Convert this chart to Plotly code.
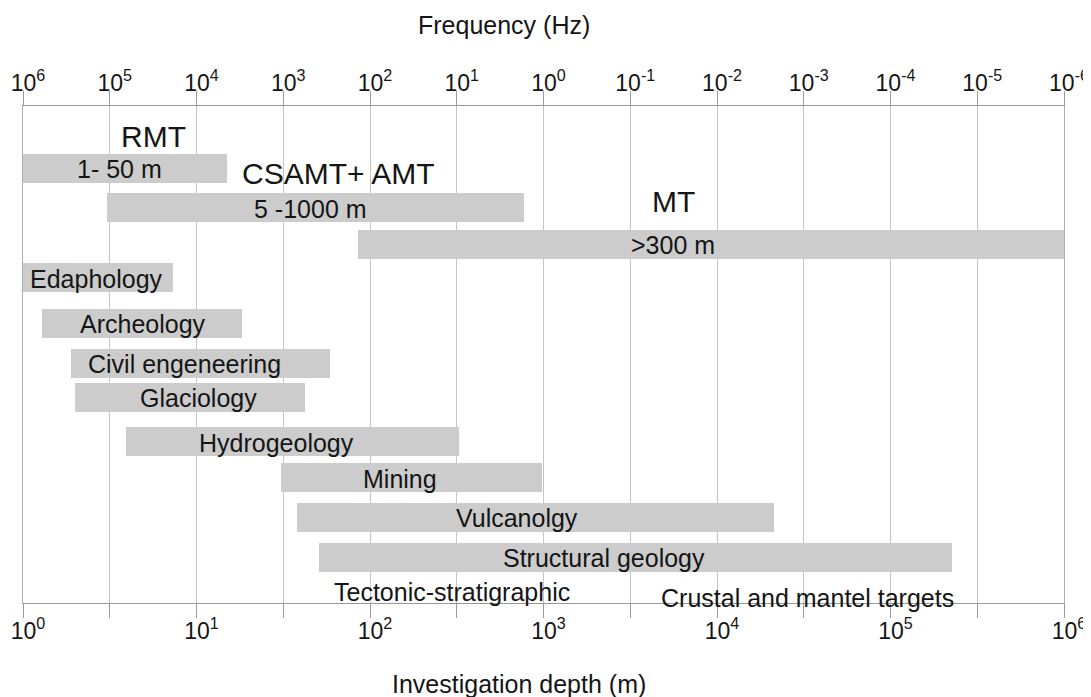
import numpy as np
import plotly.graph_objects as go

# =============================================================================
# Data - depths in metres
# =============================================================================
bar_names = ['RMT', 'CSAMT', 'MT', 'Edaphology', 'Archeology', 'Civil engeneering',
             'Glaciology', 'Hydrogeology', 'Mining', 'Vulcanolgy', 'Structural geology']
bar_labels = ['1- 50 m', '5 -1000 m', '>300 m', 'Edaphology', 'Archeology',
              'Civil engeneering', 'Glaciology', 'Hydrogeology', 'Mining',
              'Vulcanolgy', 'Structural geology']
depth_min = [1, 3.05, 85, 1, 1.28, 1.9, 2.0, 3.9, 30.8, 37.7, 51]
depth_max = [15, 772, 1e6, 7.3, 18.3, 58.7, 42, 326, 980, 21200, 226000]
# vertical row position of each bar (pixels below the top frame line)
bar_rows = [62, 101.5, 138, 171.7, 217, 257, 291, 335.5, 371.5, 411, 451]

depth_exp = [0, 1, 2, 3, 4, 5, 6]
freq_exp = [6, 5, 4, 3, 2, 1, 0, -1, -2, -3, -4, -5, -6]

# label placement (log10 depth, row)
label_x = [0.559, 1.657, 3.749, 0.421, 0.690, 0.933, 1.013, 1.462, 2.173, 2.845, 3.350]
method_titles = ['RMT', 'CSAMT+ AMT', 'MT']
method_x = [0.755, 1.821, 3.752]
method_y = [30, 67, 95.5]
extra_text = ['Tectonic-stratigraphic', 'Crustal and mantel targets']
extra_x = [2.473, 4.519]
extra_y = [486, 492]

FONT = 'Liberation Sans, Arial, sans-serif'
TXT = '#151515'

lo = np.log10(depth_min)
hi = np.log10(depth_max)

fig = go.Figure()

fig.add_trace(go.Bar(
    y=bar_rows,
    x=hi - lo,
    base=lo,
    orientation='h',
    width=29,
    marker=dict(color='#cccccc', line=dict(width=0)),
    hovertext=bar_names,
    showlegend=False,
))

# invisible trace so the frequency axis is drawn
fig.add_trace(go.Scatter(x=[freq_exp[0], freq_exp[-1]], y=[0, 0], xaxis='x2',
                         mode='markers', marker=dict(opacity=0),
                         showlegend=False, hoverinfo='skip'))

annotations = []
for lx, ly, t in zip(label_x, bar_rows, bar_labels):
    annotations.append(dict(x=lx, y=ly + 1, text=t, showarrow=False,
                            font=dict(family=FONT, size=25, color=TXT)))
for lx, ly, t in zip(method_x, method_y, method_titles):
    annotations.append(dict(x=lx, y=ly, text=t, showarrow=False,
                            font=dict(family=FONT, size=30, color=TXT)))
for lx, ly, t in zip(extra_x, extra_y, extra_text):
    annotations.append(dict(x=lx, y=ly, text=t, showarrow=False,
                            font=dict(family=FONT, size=25, color=TXT)))

annotations.append(dict(x=0.462, y=1.163, xref='paper', yref='paper',
                        xanchor='center', yanchor='middle',
                        text='Frequency (Hz)', showarrow=False,
                        font=dict(family=FONT, size=25, color=TXT)))
annotations.append(dict(x=0.476, y=-0.163, xref='paper', yref='paper',
                        xanchor='center', yanchor='middle',
                        text='Investigation depth (m)', showarrow=False,
                        font=dict(family=FONT, size=25, color=TXT)))

half_ticks = np.arange(0, 6.01, 0.5)
half_text = ['10<sup>%d</sup>' % v if v == int(v) else '' for v in half_ticks]

# page body has an 8px margin, so the figure is shrunk by that amount
fig.update_layout(
    width=1083, height=689,
    margin=dict(l=15, r=27, t=98, b=94),
    plot_bgcolor='white', paper_bgcolor='white',
    bargap=0,
    annotations=annotations,
    xaxis=dict(
        range=[0, 6], tickvals=half_ticks, ticktext=half_text,
        ticks='outside', ticklen=14, tickwidth=1.3, tickcolor='#9a9a9a',
        ticklabelstandoff=-7, ticklabelshift=5, ticklabeloverflow='allow',
        showline=True, linecolor='#9a9a9a', linewidth=1.3,
        showgrid=False, zeroline=False, automargin=False,
        tickfont=dict(family=FONT, size=23, color=TXT),
    ),
    xaxis2=dict(
        overlaying='x', side='top', anchor='y',
        range=[6, -6], tickvals=freq_exp,
        ticktext=['10<sup>%d</sup>' % v for v in freq_exp],
        ticks='outside', ticklen=14, tickwidth=1.3, tickcolor='#9a9a9a',
        ticklabelstandoff=-9, ticklabelshift=-5, ticklabeloverflow='allow',
        showline=True, linecolor='#9a9a9a', linewidth=1.3,
        showgrid=True, gridcolor='#c6c6c6', gridwidth=1.3, zeroline=False,
        automargin=False,
        tickfont=dict(family=FONT, size=23, color=TXT),
    ),
    yaxis=dict(
        range=[497, 0], showticklabels=False, ticks='',
        showgrid=False, zeroline=False, automargin=False,
        showline=True, mirror=True, linecolor='#b0b0b0', linewidth=1.3,
    ),
)

fig.write_html('out.html')
